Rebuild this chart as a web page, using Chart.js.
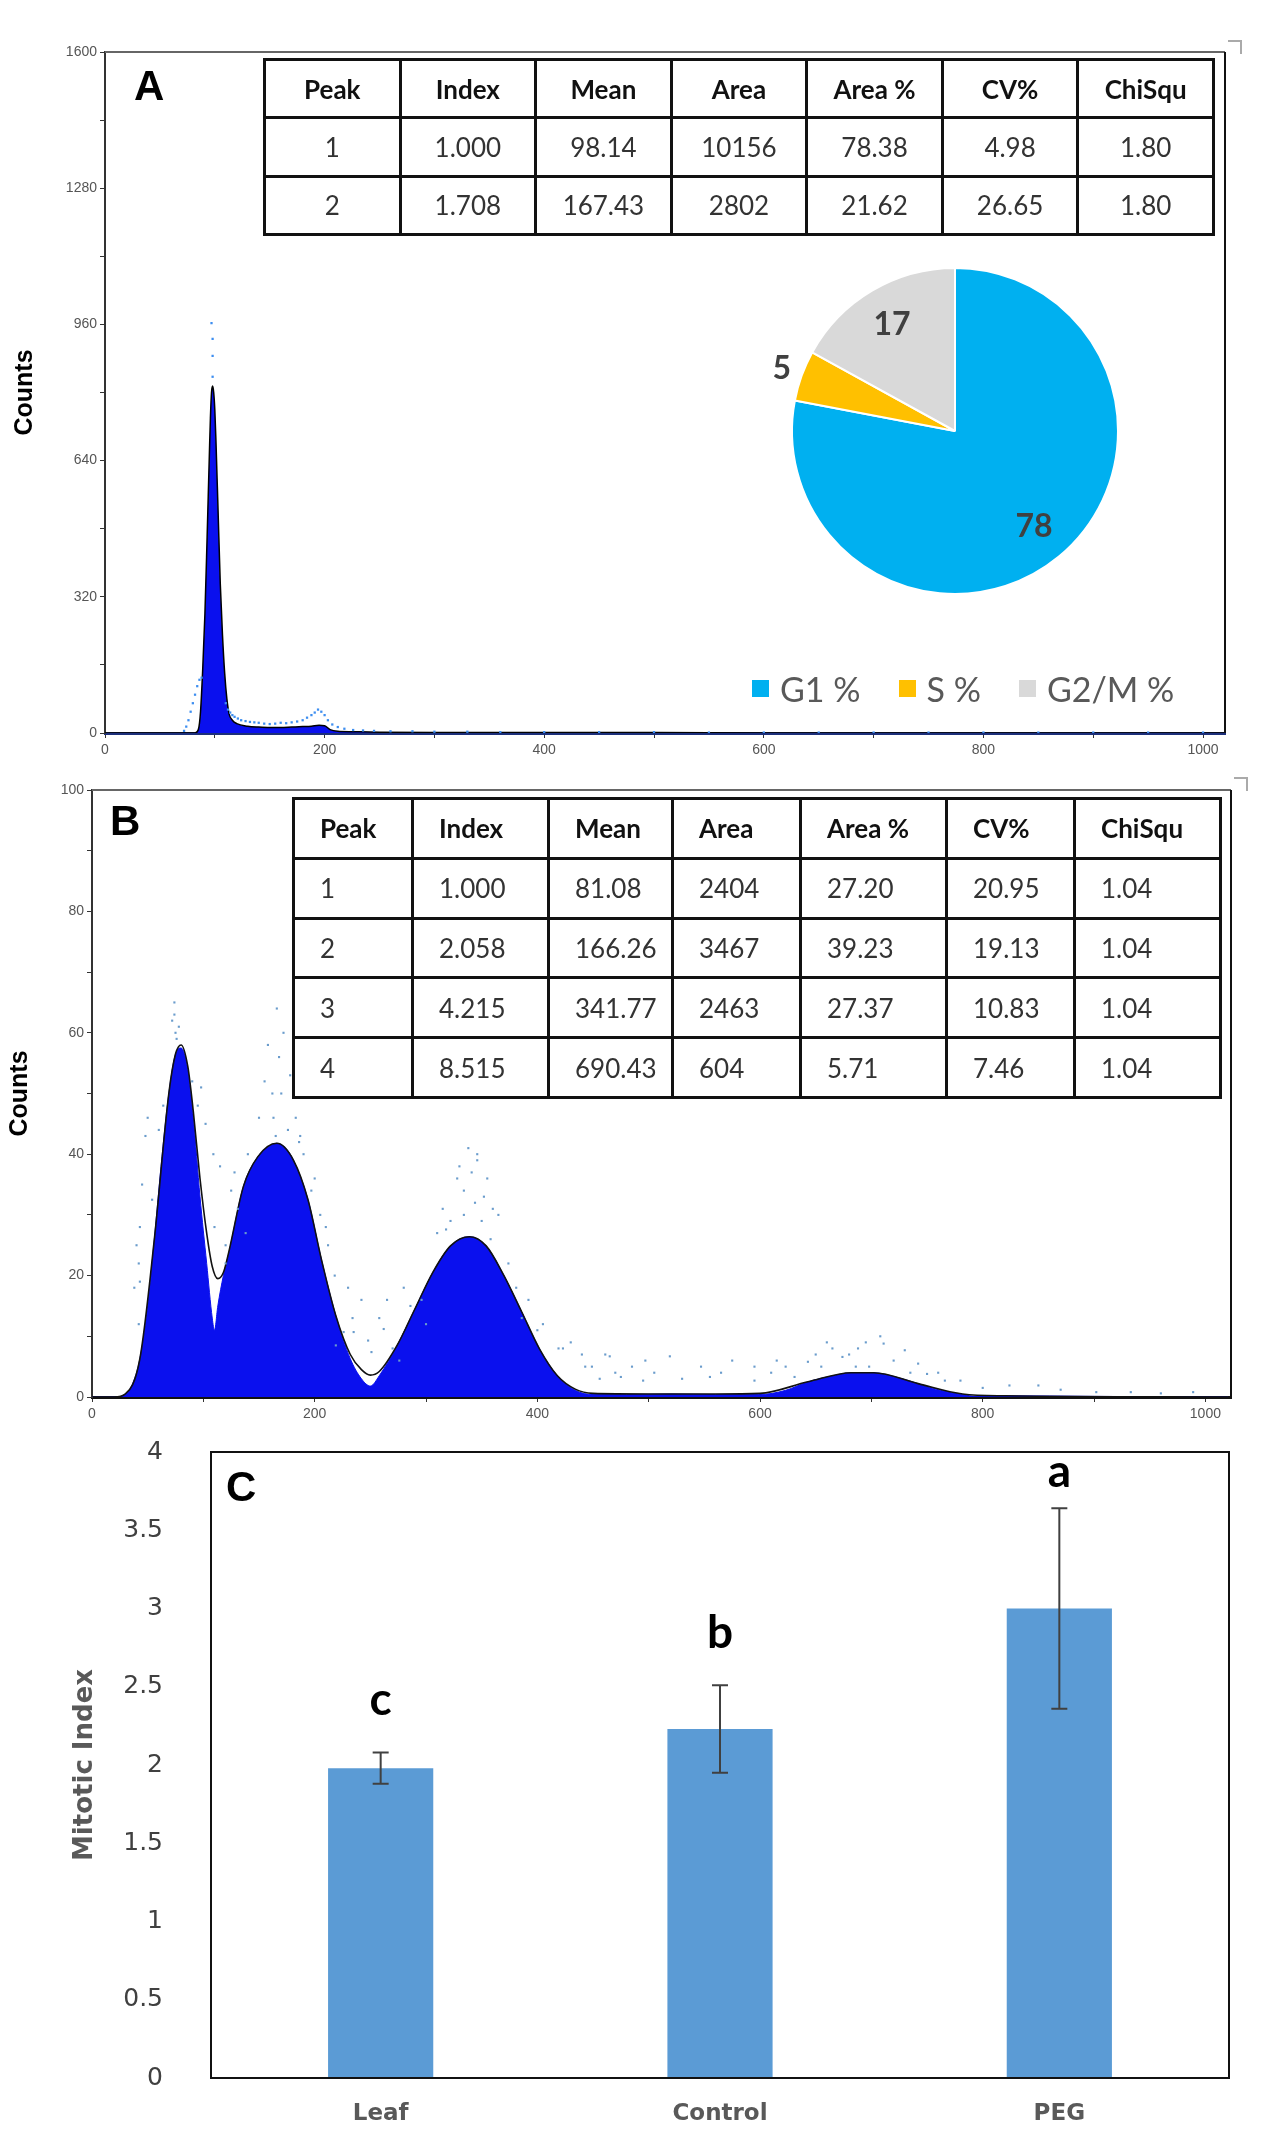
<!DOCTYPE html>
<html>
<head>
<meta charset="utf-8">
<script src="https://cdn.jsdelivr.net/npm/chart.js@4.4.1/dist/chart.umd.min.js"></script>
<style>
body { margin:0; background:#fff; }
#page { position:relative; width:1267px; height:2148px; overflow:hidden; background:#fff; }
canvas { position:absolute; left:0; }
.tbl { position:absolute; border-collapse:collapse; table-layout:fixed; font-family:Lato, sans-serif; font-size:26px; color:#333; }
.tbl td, .tbl th { border:3px solid #111; padding:0; font-weight:normal; }
.tbl th { font-weight:bold; color:#111; }
#tabA td, #tabA th { text-align:center; }
#tabB td, #tabB th { text-align:left; padding-left:25px; }
.panel { position:absolute; font-family:'Liberation Sans', Arial, sans-serif; font-weight:bold; font-size:42px; line-height:1; color:#000; }
.corner { position:absolute; width:12px; height:12px; border-top:2px solid #aaa; border-right:2px solid #aaa; }
#legA { position:absolute; left:752px; top:669px; height:38px; display:flex; align-items:center; font-family:Lato, sans-serif; font-size:34px; color:#595959; white-space:nowrap; }
#legA .sw { width:17px; height:17px; margin-right:11px; }
#legA .it { display:flex; align-items:center; margin-right:38px; }
</style>
</head>
<body>
<div id="page">
  <canvas id="histA" width="1267" height="780" style="top:0px"></canvas>
  <canvas id="pieA" width="400" height="400" style="left:755px; top:231px"></canvas>
  <canvas id="histB" width="1267" height="684" style="top:760px"></canvas>
  <canvas id="barC" width="1267" height="728" style="top:1420px"></canvas>
  <table id="tabA" class="tbl" style="left:263px; top:58px; width:952px; height:178px"></table>
  <table id="tabB" class="tbl" style="left:292px; top:797px; width:927px; height:302px"></table>
  <div id="legA"></div>
  <div class="panel" style="left:134px; top:65px">A</div>
  <div class="panel" style="left:110px; top:800px">B</div>
  <div class="panel" style="left:226px; top:1466px">C</div>
  <div class="corner" style="left:1228px; top:40px"></div>
  <div class="corner" style="left:1234px; top:777px"></div>
</div>
<script>
// ---- panel A : histogram (channel / counts)
var histAx = [0, 70, 82, 85, 87, 89, 91, 93, 95, 96, 97, 98, 99, 100, 101, 103, 105, 107, 109, 111, 113, 116, 120, 130, 140, 150, 160, 170, 180, 188, 195, 200, 205, 212, 225, 250, 300, 400, 500, 600, 700, 800, 900, 1000, 1020];
var histAy = [0, 0, 0, 8, 50, 150, 280, 460, 650, 740, 800, 815, 800, 760, 690, 520, 350, 230, 140, 80, 45, 30, 22, 16, 14, 13, 13, 14, 15, 16, 18, 17, 8, 4, 3, 2, 1, 1, 1, 0, 0, 0, 0, 0, 0];
var dotsAx = [97, 98, 98, 98, 72, 74, 76, 78, 80, 82, 84, 86, 88, 110, 112, 114, 116, 118, 121, 124, 128, 132, 136, 140, 145, 150, 155, 160, 165, 170, 175, 180, 184, 188, 191, 194, 197, 200, 203, 207, 212, 218, 226, 235, 245, 260, 280, 300, 330, 360, 400, 450, 500, 550, 600, 650, 700, 750, 800, 850, 900, 950, 1000];
var dotsAy = [963, 926, 886, 837, 5, 15, 30, 50, 70, 90, 110, 125, 130, 70, 55, 48, 42, 38, 34, 30, 28, 26, 25, 24, 22, 21, 22, 24, 23, 25, 27, 30, 36, 42, 48, 55, 50, 42, 30, 20, 14, 10, 7, 6, 5, 4, 4, 3, 3, 2, 2, 2, 2, 1, 1, 1, 1, 1, 1, 1, 1, 1, 1];

// ---- panel A : table and pie
var tableHead = ['Peak', 'Index', 'Mean', 'Area', 'Area %', 'CV%', 'ChiSqu'];
var tableArow1 = ['1', '1.000', '98.14', '10156', '78.38', '4.98', '1.80'];
var tableArow2 = ['2', '1.708', '167.43', '2802', '21.62', '26.65', '1.80'];
var pieLabels = ['G1 %', 'S %', 'G2/M %'];
var pieValues = [78, 5, 17];
var pieColors = ['#00B0F0', '#FFC000', '#D9D9D9'];

// ---- panel B : histogram, fit line, scattered events
var histBx = [0, 20, 30, 36, 43, 50, 56, 62, 69, 75, 80, 86, 91, 97, 103, 108, 110, 113, 118, 123, 136, 149, 158, 166, 174, 181, 194, 206, 219, 232, 242, 250, 258, 274, 290, 306, 322, 339, 354, 370, 386, 402, 418, 434, 450, 480, 520, 560, 599, 623, 643, 663, 682, 702, 722, 742, 762, 782, 794, 820, 900, 1020];
var histBy = [0, 0, 0.5, 2, 6.3, 15, 26, 38, 50, 56.5, 57.5, 54, 46, 33, 22, 13, 11, 15, 20, 23.8, 34.7, 39.6, 41.2, 41.8, 41, 39, 32.5, 22.7, 13.4, 6.3, 3, 1.8, 3.5, 8.5, 14.5, 20.5, 24.9, 26.4, 24.9, 20, 14, 7.9, 3.5, 1.1, 0.4, 0.4, 0.5, 0.4, 0.4, 1.1, 2.5, 3.4, 4.0, 4.0, 3.3, 2.2, 1.1, 0.4, 0.1, 0.2, 0.1, 0];
var fitBx = [0, 20, 30, 43, 56, 69, 75, 80, 86, 91, 97, 103, 108, 113, 118, 123, 136, 149, 166, 181, 194, 206, 219, 232, 242, 250, 258, 274, 290, 306, 322, 339, 354, 370, 386, 402, 418, 434, 450, 500, 560, 600, 643, 682, 702, 742, 782, 820, 1020];
var fitBy = [0, 0, 0.5, 6.3, 26, 50, 56.5, 58, 54.5, 47, 36, 27, 21.5, 19.5, 20.5, 24, 34.7, 39.6, 41.8, 39, 32.5, 22.7, 13.4, 7, 4.5, 3.6, 4.2, 8.5, 14.5, 20.5, 24.9, 26.4, 24.9, 20, 14, 7.9, 3.5, 1.3, 0.6, 0.5, 0.5, 0.6, 2.5, 4.0, 4.0, 2.2, 0.5, 0.2, 0];
var dotsBx = [74, 74, 75, 76, 72, 78, 48, 45, 54, 43, 42, 43, 42, 98, 109, 125, 110, 120, 120, 131, 138, 166, 168, 170, 162, 163, 165, 176, 183, 187, 186, 197, 205, 212, 226, 219, 234, 235, 242, 248, 251, 262, 270, 286, 296, 276, 300, 346, 346, 341, 328, 334, 352, 344, 360, 334, 322, 350, 318, 358, 374, 381, 386, 400, 419, 423, 443, 449, 456, 461, 465, 475, 495, 497, 519, 547, 555, 595, 595, 623, 631, 643, 665, 674, 686, 688, 698, 708, 711, 730, 742, 750, 766, 780, 824, 850, 902, 933, 989,
  40, 38, 50, 60, 64, 90, 95, 102, 115, 128, 140, 150, 155, 158, 172, 178, 190, 200, 210, 218, 230, 258, 265, 280, 310, 315, 330, 338, 355, 365, 392, 405, 430, 440, 470, 485, 505, 530, 565, 575, 610, 615, 650, 655, 660, 680, 695, 720, 735, 760, 800, 870, 960];
var dotsBy = [65, 63, 60, 59, 62, 61, 43, 35, 32.5, 28, 22, 19, 12, 51, 40, 34, 28, 25, 22, 31, 27, 64, 56, 50, 50, 46, 43, 44, 46, 43, 42, 34, 30, 25, 10.7, 8.5, 13, 10.7, 16, 9.3, 7.4, 11.2, 8, 15, 16, 6, 12, 40, 39, 37, 36, 34, 33, 32, 31, 30, 29, 29, 27.6, 26, 22, 18, 13, 11, 8, 8, 5, 5, 3, 7, 6.7, 3.3, 2.7, 6, 6.7, 5, 3.3, 5, 2.7, 5, 3.3, 5.8, 8, 6.6, 5, 8, 5, 10, 8.8, 7.7, 5.5, 3.8, 2.7, 2.7, 1.9, 1.9, 0.8, 0.8, 0.8,
  25, 18, 46, 44, 48, 52, 48, 45, 38, 37, 40, 46, 52, 58, 60, 53, 40, 36, 28, 20, 18, 13, 16, 18, 27, 31, 38, 41, 36, 30, 16, 12, 9, 7, 4, 5, 4, 3, 4, 6, 4, 6, 7, 5, 9, 7, 9, 6, 4, 4, 1.5, 1.2, 0.6];
var tableBrow1 = ['1', '1.000', '81.08', '2404', '27.20', '20.95', '1.04'];
var tableBrow2 = ['2', '2.058', '166.26', '3467', '39.23', '19.13', '1.04'];
var tableBrow3 = ['3', '4.215', '341.77', '2463', '27.37', '10.83', '1.04'];
var tableBrow4 = ['4', '8.515', '690.43', '604', '5.71', '7.46', '1.04'];
var tableBcols = [119, 136, 124, 128, 146, 128, 146];

// ---- panel C : mitotic index
var groups = ['Leaf', 'Control', 'PEG'];
var mitotic = [1.98, 2.23, 3.0];
var mitoticErr = [0.10, 0.28, 0.64];
var sigLetters = ['c', 'b', 'a'];

function pts(xs, ys) {
  var out = [];
  for (var i = 0; i < xs.length; i++) out.push({x: xs[i], y: ys[i]});
  return out;
}

function fillTable(id, rows, cols) {
  var t = document.getElementById(id);
  var html = '';
  if (cols) {
    html += '<colgroup>';
    for (var c = 0; c < cols.length; c++) html += '<col style="width:' + cols[c] + 'px">';
    html += '</colgroup>';
  }
  html += '<tr>' + tableHead.map(function(h) { return '<th>' + h + '</th>'; }).join('') + '</tr>';
  rows.forEach(function(r) {
    html += '<tr>' + r.map(function(v) { return '<td>' + v + '</td>'; }).join('') + '</tr>';
  });
  t.innerHTML = html;
}
fillTable('tabA', [tableArow1, tableArow2]);
fillTable('tabB', [tableBrow1, tableBrow2, tableBrow3, tableBrow4], tableBcols);

var leg = document.getElementById('legA');
pieLabels.forEach(function(l, i) {
  leg.innerHTML += '<div class="it"><div class="sw" style="background:' + pieColors[i] + '"></div>' + l + '</div>';
});

// top and right edge of the plot box
var framePlugin = {
  id: 'frame',
  afterDraw: function(chart, args, opts) {
    var a = chart.chartArea, ctx = chart.ctx;
    ctx.save();
    ctx.lineWidth = 2;
    ctx.strokeStyle = opts.topColor || '#222';
    ctx.beginPath();
    ctx.moveTo(a.left, a.top); ctx.lineTo(a.right, a.top);
    ctx.stroke();
    ctx.strokeStyle = opts.rightColor || '#222';
    ctx.beginPath();
    ctx.moveTo(a.right, a.top); ctx.lineTo(a.right, a.bottom);
    ctx.stroke();
    ctx.restore();
  }
};

var tickFont = {family: "'Liberation Sans', Arial, sans-serif", size: 14};

function histScales(yMax, yStep, yEvery, xMax, yWidth, xHeight, titlePad, xColor) {
  return {
    x: {
      type: 'linear', min: 0, max: xMax,
      afterFit: function(s) { s.height = xHeight; },
      ticks: { stepSize: 100, includeBounds: false, autoSkip: false, maxRotation: 0, padding: 4, color: '#555', font: tickFont,
        callback: function(v) { return v % 200 === 0 ? v : ''; } },
      grid: { drawOnChartArea: false, tickLength: 5, color: '#333' },
      border: { color: xColor, width: 3 }
    },
    y: {
      min: 0, max: yMax,
      afterFit: function(s) { s.width = yWidth; },
      ticks: { stepSize: yStep, includeBounds: false, autoSkip: false, padding: 3, color: '#555', font: tickFont,
        callback: function(v) { return v % yEvery === 0 ? v : ''; } },
      grid: { drawOnChartArea: false, tickLength: 5, color: '#333' },
      border: { color: '#333', width: 2 },
      title: { display: true, text: 'Counts', color: '#000', padding: {top: titlePad},
        font: {family: "'Liberation Sans', Arial, sans-serif", size: 25, weight: 'bold'} }
    }
  };
}

new Chart(document.getElementById('histA'), {
  type: 'line',
  data: {
    datasets: [
      { data: pts(dotsAx, dotsAy), type: 'scatter', showLine: false, pointStyle: 'rect', pointRadius: 1.6,
        backgroundColor: '#3d8ef0', borderWidth: 0, order: 0 },
      { data: pts(histAx, histAy), fill: 'origin', backgroundColor: '#0a10ee', borderColor: '#000', borderWidth: 1.5,
        pointRadius: 0, cubicInterpolationMode: 'monotone', order: 1 }
    ]
  },
  options: {
    responsive: false, animation: false,
    layout: { padding: {top: 52, right: 42, left: 0, bottom: 0} },
    plugins: { legend: {display: false}, tooltip: {enabled: false}, frame: {topColor: '#666', rightColor: '#111'} },
    scales: histScales(1600, 160, 320, 1020, 105, 47, 10, '#1c2f7a')
  },
  plugins: [framePlugin]
});

// numbers inside / beside the pie slices
var pieLabelPlugin = {
  id: 'pieLabels',
  afterDatasetsDraw: function(chart) {
    var ctx = chart.ctx;
    var meta = chart.getDatasetMeta(0);
    ctx.save();
    ctx.font = "bold 32px Lato, sans-serif";
    ctx.fillStyle = '#404040';
    ctx.textAlign = 'center';
    ctx.textBaseline = 'middle';
    meta.data.forEach(function(arc, i) {
      var mid = (arc.startAngle + arc.endAngle) / 2;
      var f = pieValues[i] < 8 ? 1.13 : 0.76;
      ctx.fillText(String(pieValues[i]), arc.x + Math.cos(mid) * arc.outerRadius * f, arc.y + Math.sin(mid) * arc.outerRadius * f);
    });
    ctx.restore();
  }
};

new Chart(document.getElementById('pieA'), {
  type: 'pie',
  data: { labels: pieLabels, datasets: [{ data: pieValues, backgroundColor: pieColors, borderColor: '#fff', borderWidth: 2 }] },
  options: {
    responsive: false, animation: false,
    layout: { padding: 36 },
    plugins: { legend: {display: false}, tooltip: {enabled: false} }
  },
  plugins: [pieLabelPlugin]
});

new Chart(document.getElementById('histB'), {
  type: 'line',
  data: {
    datasets: [
      { data: pts(dotsBx, dotsBy), type: 'scatter', showLine: false, pointStyle: 'rect', pointRadius: 1.5,
        backgroundColor: '#6a9ccc', borderWidth: 0, order: 0 },
      { data: pts(fitBx, fitBy), fill: false, borderColor: '#111', borderWidth: 1.6, pointRadius: 0,
        cubicInterpolationMode: 'monotone', order: 1 },
      { data: pts(histBx, histBy), fill: 'origin', backgroundColor: '#0a10ee', borderColor: '#0a10ee', borderWidth: 1,
        pointRadius: 0, cubicInterpolationMode: 'monotone', order: 2 }
    ]
  },
  options: {
    responsive: false, animation: false,
    layout: { padding: {top: 30, right: 36, left: 0, bottom: 0} },
    plugins: { legend: {display: false}, tooltip: {enabled: false}, frame: {topColor: '#666', rightColor: '#111'} },
    scales: histScales(100, 10, 20, 1023, 92, 47, 5, '#111')
  },
  plugins: [framePlugin]
});

// error bars and significance letters
var errorPlugin = {
  id: 'errorBars',
  afterDatasetsDraw: function(chart) {
    var ctx = chart.ctx, y = chart.scales.y, a = chart.chartArea;
    var meta = chart.getDatasetMeta(0);
    ctx.save();
    meta.data.forEach(function(bar, i) {
      var top = y.getPixelForValue(mitotic[i] + mitoticErr[i]);
      var bot = y.getPixelForValue(mitotic[i] - mitoticErr[i]);
      ctx.strokeStyle = '#404040';
      ctx.lineWidth = 2;
      ctx.beginPath();
      ctx.moveTo(bar.x, top); ctx.lineTo(bar.x, bot);
      ctx.moveTo(bar.x - 8, top); ctx.lineTo(bar.x + 8, top);
      ctx.moveTo(bar.x - 8, bot); ctx.lineTo(bar.x + 8, bot);
      ctx.stroke();
      ctx.fillStyle = '#000';
      ctx.font = "bold 46px Lato, sans-serif";
      ctx.textAlign = 'center';
      ctx.textBaseline = 'middle';
      ctx.fillText(sigLetters[i], bar.x, Math.max(a.top + 20, top - 52));
    });
    ctx.strokeStyle = '#111';
    ctx.lineWidth = 2;
    ctx.strokeRect(a.left, a.top, a.right - a.left, a.bottom - a.top);
    ctx.restore();
  }
};

new Chart(document.getElementById('barC'), {
  type: 'bar',
  data: { labels: groups, datasets: [{ data: mitotic, backgroundColor: '#5B9BD5', barPercentage: 0.31, categoryPercentage: 1.0 }] },
  options: {
    responsive: false, animation: false,
    layout: { padding: {top: 32, right: 38, left: 0, bottom: 0} },
    plugins: { legend: {display: false}, tooltip: {enabled: false} },
    scales: {
      x: {
        afterFit: function(s) { s.height = 70; },
        ticks: { padding: 22, color: '#595959', font: {family: "'DejaVu Sans', sans-serif", size: 23, weight: 'bold'} },
        grid: { display: false, drawTicks: false },
        border: { color: '#111', width: 2 }
      },
      y: {
        min: 0, max: 4,
        afterFit: function(s) { s.width = 211; },
        ticks: { stepSize: 0.5, padding: 4, color: '#404040', font: {family: "'DejaVu Sans', sans-serif", size: 25},
          callback: function(v) { return String(Math.round(v * 10) / 10); } },
        grid: { display: true, drawOnChartArea: false, drawTicks: true, tickLength: 44, tickColor: 'rgba(0,0,0,0)' },
        border: { color: '#111', width: 2 },
        title: { display: true, text: 'Mitotic Index', color: '#595959', padding: {top: 70},
          font: {family: "'DejaVu Sans', sans-serif", size: 26, weight: 'bold'} }
      }
    }
  },
  plugins: [errorPlugin]
});
</script>
</body>
</html>
